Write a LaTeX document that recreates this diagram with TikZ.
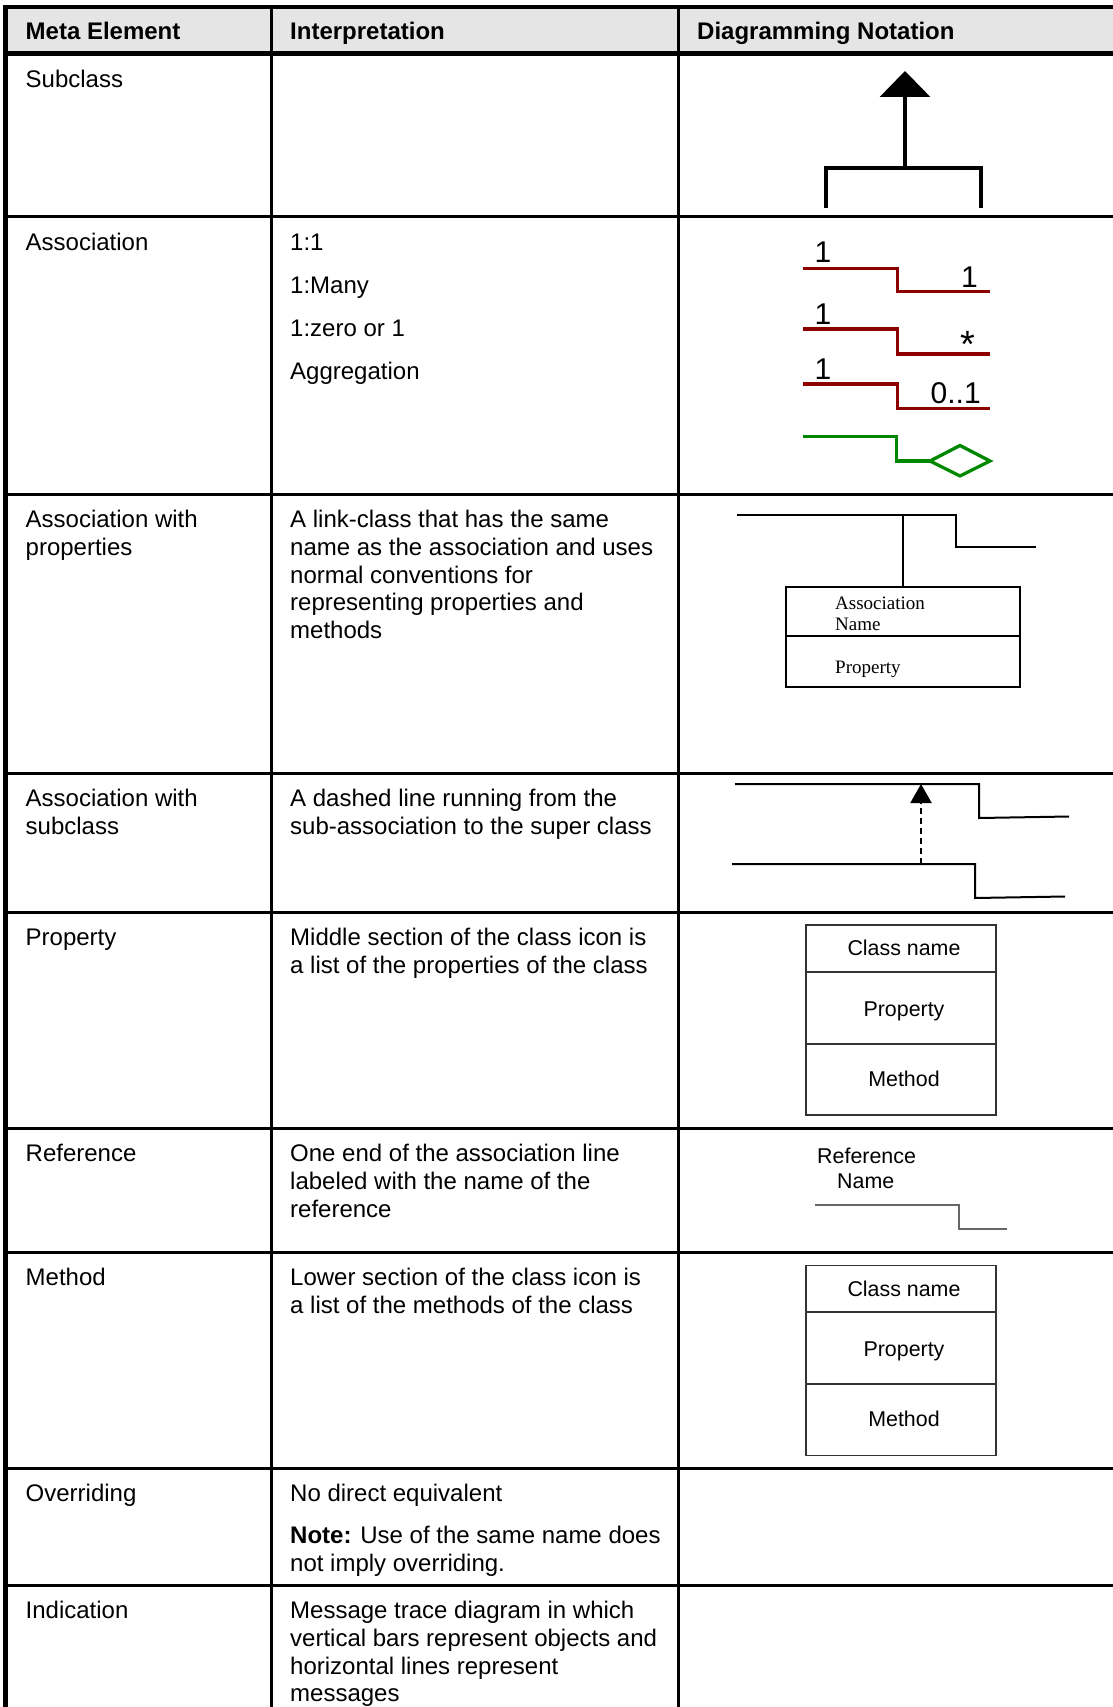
\documentclass[tikz,border=0pt]{standalone}
\usepackage{fontspec}
\setmainfont{Liberation Sans}
\newfontfamily\timesfont{Liberation Serif}
\usetikzlibrary{arrows.meta}

\definecolor{headgray}{gray}{0.9}
\definecolor{assocred}{RGB}{140,0,0}
\definecolor{agggreen}{RGB}{0,135,0}
\definecolor{boxgray}{gray}{0.2}
\definecolor{refgray}{gray}{0.4}

% a block of lines whose first baseline is the node's base
\newcommand{\tcell}[1]{\vtop{\baselineskip=27.8pt\lineskiplimit=-100pt\lineskip=0pt #1}}
\newcommand{\tline}[1]{\hbox{#1}}
\newcommand{\tgap}{\vskip 15.5pt}

\tikzset{
  body/.style={font=\fontsize{24}{27.8}\selectfont, inner sep=0pt, anchor=base west},
  head/.style={body, font=\fontsize{24}{27.8}\selectfont\bfseries},
  rule/.style={line width=3pt},
  assocline/.style={draw=assocred, line width=3.3pt},
  aggline/.style={draw=agggreen, line width=3.3pt},
  mult/.style={font=\fontsize{30}{36}\selectfont, inner sep=0pt, anchor=base},
  thinline/.style={line width=2pt},
  tnr/.style={font=\timesfont\fontsize{19}{21}\selectfont, inner sep=0pt, anchor=base west},
  clsbox/.style={draw=boxgray, line width=1.6pt, minimum width=190pt, minimum height=190pt, inner sep=0pt},
  clstext/.style={font=\fontsize{21.4}{25}\selectfont, inner sep=0pt, anchor=base},
  reftext/.style={font=\fontsize{21.4}{25}\selectfont, inner sep=0pt, anchor=base west},
}

\begin{document}
\begin{tikzpicture}[x=1pt, y=-1pt]
\useasboundingbox (0,0) rectangle (1113,1707);
\clip (0,0) rectangle (1113,1707);

% ---------- table grid ----------
\fill[headgray] (6,7) rectangle (1113,53.5);
\draw[line width=4pt] (3,7) -- (1113,7);
\draw[line width=5pt] (3,53.5) -- (1113,53.5);
\foreach \y in {216.5,494,773,912,1128,1252,1468,1585}
  \draw[rule] (3,\y) -- (1113,\y);
\draw[line width=5pt] (5.5,5) -- (5.5,1707);
\draw[rule] (271,5) -- (271,1707);
\draw[rule] (678,5) -- (678,1707);

% ---------- header ----------
\node[head] (h1) at (25.5,40) {Meta Element};
\node[head] (h2) at (290,40) {Interpretation};
\node[head] (h3) at (697,40) {Diagramming Notation};

% ---------- first column ----------
\node[body] (e1) at (25.5,87.5) {Subclass};
\node[body] (e2) at (25.5,250) {Association};
\node[body] (e3) at (25.5,527.5) {\tcell{\tline{Association with}\tline{properties}}};
\node[body] (e4) at (25.5,806.5) {\tcell{\tline{Association with}\tline{subclass}}};
\node[body] (e5) at (25.5,945.5) {Property};
\node[body] (e6) at (25.5,1161.5) {Reference};
\node[body] (e7) at (25.5,1285.5) {Method};
\node[body] (e8) at (25.5,1501.5) {Overriding};
\node[body] (e9) at (25.5,1618.5) {Indication};

% ---------- second column ----------
\node[body] (i2) at (290,250) {\tcell{\tline{1:1}\tgap\tline{1:Many}\tgap\tline{1:zero or 1}\tgap\tline{Aggregation}}};
\node[body] (i3) at (290,527.5) {\tcell{\tline{A link-class that has the same}\tline{name as the association and uses}\tline{normal conventions for}\tline{representing properties and}\tline{methods}}};
\node[body] (i4) at (290,806.5) {\tcell{\tline{A dashed line running from the}\tline{sub-association to the super class}}};
\node[body] (i5) at (290,945.5) {\tcell{\tline{Middle section of the class icon is}\tline{a list of the properties of the class}}};
\node[body] (i6) at (290,1161.5) {\tcell{\tline{One end of the association line}\tline{labeled with the name of the}\tline{reference}}};
\node[body] (i7) at (290,1285.5) {\tcell{\tline{Lower section of the class icon is}\tline{a list of the methods of the class}}};
\node[body] (i8) at (290,1501.5) {\tcell{\tline{No direct equivalent}\vskip 14.5pt\tline{\textbf{Note:} Use of the same name does}\tline{not imply overriding.}}};
\node[body] (i9) at (290,1618.5) {\tcell{\tline{Message trace diagram in which}\tline{vertical bars represent objects and}\tline{horizontal lines represent}\tline{messages}}};

% ---------- subclass notation ----------
\coordinate (gentip) at (905,71);
\coordinate (genroot) at (905,168);
\draw[line width=3.5pt, -{Triangle[length=26pt,width=50pt]}] (genroot) -- (gentip);
\draw[line width=4.5pt] (826,208) -- (826,168) -- (981,168) -- (981,208);

% ---------- association multiplicities ----------
\draw[assocline] (803,268.3) -- (897.5,268.3) -- (897.5,291.7) -- (990,291.7);
\node[mult] (m1l) at (823,262) {1};
\node[mult] (m1r) at (969.5,287) {1};
\draw[assocline] (803,329) -- (897.5,329) -- (897.5,354) -- (990,354);
\node[mult] (m2l) at (823,324) {1};
\node[mult, font=\fontsize{38}{40}\selectfont] (m2r) at (968,357) {*};
\draw[assocline] (803,384) -- (897.5,384) -- (897.5,408.3) -- (990,408.3);
\node[mult] (m3l) at (823,379) {1};
\node[mult, anchor=base west] (m3r) at (930.5,403) {0..1};
% aggregation with hollow diamond
\coordinate (aggend) at (930,461);
\draw[aggline] (803,436.7) -- (896.7,436.7) -- (896.7,461) -- (aggend);
\draw[aggline] (aggend) -- (960,445.5) -- (990,461) -- (960,476) -- cycle;

% ---------- link class ----------
\draw[thinline] (737,515) -- (956,515) -- (956,547) -- (1036,547);
\node[draw, line width=2pt, minimum width=234pt, minimum height=100pt, inner sep=0pt] (link) at (903,637) {};
\draw[line width=2.4pt] (link.west |- 0,636) -- (link.east |- 0,636);
\coordinate (linkjoin) at (903,515);
\draw[thinline] (linkjoin) -- (link.north);
\node[tnr] (ln1) at (835,609) {Association};
\node[tnr] (ln2) at (835,630) {Name};
\node[tnr] (ln3) at (835,673) {Property};

% ---------- sub-association ----------
\draw[thinline] (735,784) -- (979,784) -- (979,818) -- (1069,816.5);
\draw[thinline] (732,864) -- (975,864) -- (975,898) -- (1065,896.5);
\coordinate (subassoc) at (921,864);
\coordinate (superassoc) at (921,784);
\draw[thinline, dash pattern=on 6pt off 4pt, -{Triangle[length=19pt,width=21pt]}] (subassoc) -- (superassoc);

% ---------- class icon (property) ----------
\node[clsbox] (cls1) at (901,1020) {};
\draw[draw=boxgray, line width=1.6pt] (cls1.west |- 0,972) -- (cls1.east |- 0,972);
\draw[draw=boxgray, line width=1.6pt] (cls1.west |- 0,1044) -- (cls1.east |- 0,1044);
\node[clstext] (c1a) at (904,955) {Class name};
\node[clstext] (c1b) at (904,1016) {Property};
\node[clstext] (c1c) at (904,1086) {Method};

% ---------- reference ----------
\node[reftext] (r1) at (817,1163) {Reference};
\node[reftext] (r2) at (837,1188) {Name};
\draw[draw=refgray, line width=1.6pt] (815,1205) -- (959,1205) -- (959,1229) -- (1007,1229);

% ---------- class icon (method) ----------
\node[clsbox] (cls2) at (901,1360.5) {};
\draw[draw=boxgray, line width=1.6pt] (cls2.west |- 0,1312) -- (cls2.east |- 0,1312);
\draw[draw=boxgray, line width=1.6pt] (cls2.west |- 0,1384) -- (cls2.east |- 0,1384);
\node[clstext] (c2a) at (904,1296) {Class name};
\node[clstext] (c2b) at (904,1356) {Property};
\node[clstext] (c2c) at (904,1426) {Method};
\end{tikzpicture}
\end{document}
